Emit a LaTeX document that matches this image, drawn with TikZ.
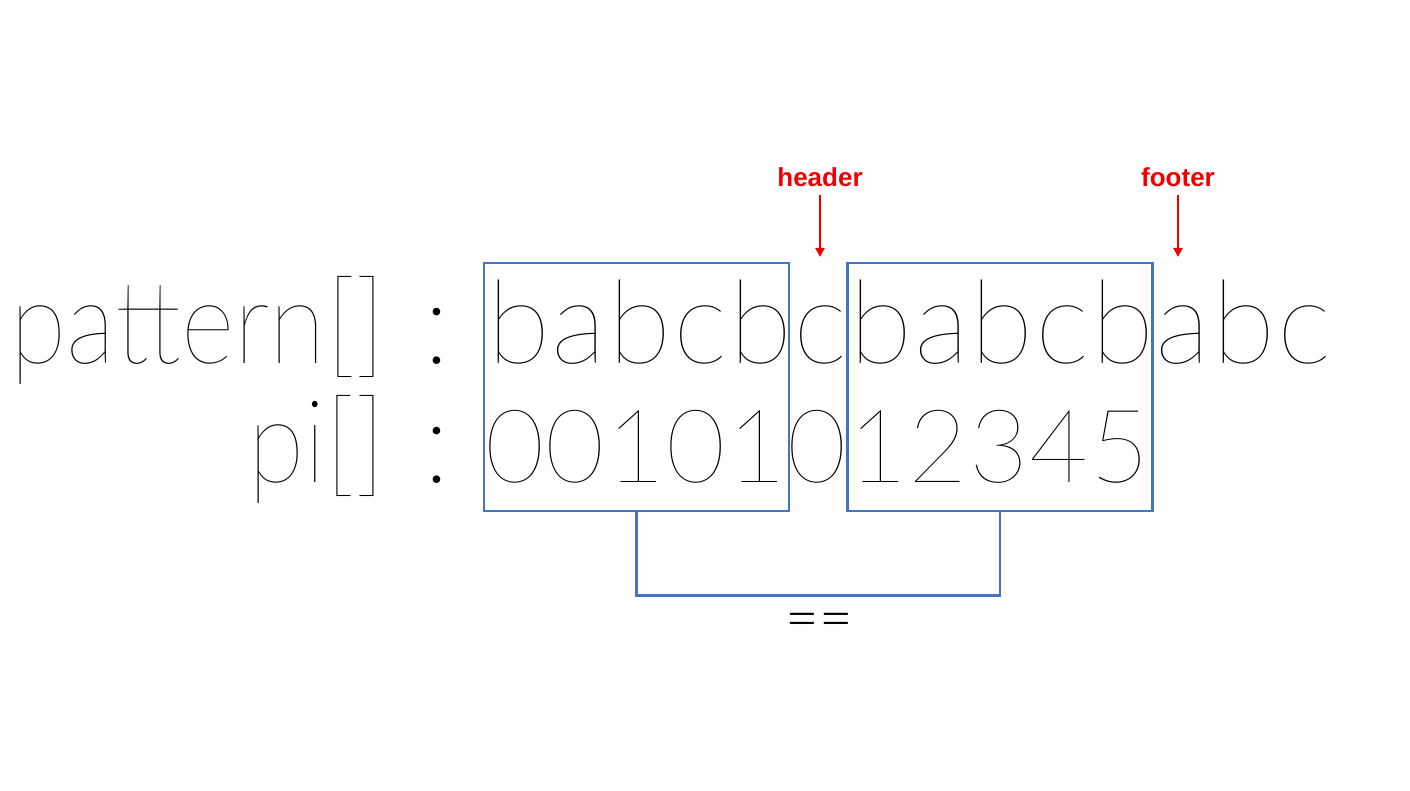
\documentclass[tikz,border=0pt]{standalone}
\usepackage{fontspec}
\usepackage{tikz}
\usetikzlibrary{positioning,arrows.meta}
\IfFontExistsTF{Lato Thin}
  {\newfontfamily\thinfont{Lato Thin}
   \newfontfamily\narrowfont{Lato Thin}[FakeStretch=0.89]}
  {\newfontfamily\thinfont{Lato Hairline}
   \newfontfamily\narrowfont{Lato Hairline}[FakeStretch=0.89]}
\IfFontExistsTF{Lato Light}
  {\newfontfamily\eqfont{Lato Light}}
  {\newfontfamily\eqfont{Lato}}
\newfontfamily\labelfont{Liberation Sans}
\definecolor{boxblue}{RGB}{68,114,196}
\definecolor{markred}{RGB}{240,0,0}

\begin{document}
\begin{tikzpicture}[x=0.5pt, y=-0.5pt,
  letter/.style={font=\thinfont\fontsize{58}{58}\selectfont, anchor=base, inner sep=0pt},
  digit/.style={font=\thinfont\fontsize{51}{51}\selectfont, anchor=base, inner sep=0pt},
  rowlabel/.style={font=\narrowfont\fontsize{58}{58}\selectfont, anchor=base east, inner sep=0pt},
  keybox/.style={draw=boxblue, line width=1.4pt, minimum width=152.5pt, minimum height=124pt, inner sep=0pt},
  link/.style={draw=boxblue, line width=1.4pt},
  marker/.style={font=\labelfont\bfseries\fontsize{13}{13}\selectfont, text=markred, inner sep=0pt},
  pointer/.style={draw=markred, line width=1pt, shorten <=4pt, -{Triangle[length=4.5pt, width=4.5pt]}}]
  \useasboundingbox (0,0) rectangle (1410,791);

  % Row labels
  \node[rowlabel] (patlbl) at (386,364) {pattern[]};
  \node[rowlabel] (pilbl) at (386,482) {pi[]};
  \node[letter] (patcol) at (437,364) {:};
  \node[letter] (picol) at (437,482) {:};

  % Pattern and pi values
  \foreach \ch [count=\i from 0] in {b,a,b,c,b,c,b,a,b,c,b,a,b,c} {
    \node[letter] (pat\i) at ({519+60.4*\i},364) {\ch};
  }
  \foreach \d [count=\i from 0] in {0,0,1,0,1,0,1,2,3,4,5} {
    \node[digit] (pi\i) at ({515+60.5*\i},482) {\d};
  }

  % Boxes
  \node[keybox] (lbox) at (636.5,387) {};
  \node[keybox] (rbox) at (1000,387) {};
  \draw[link] (lbox.south) -- ++(0,83) -| (rbox.south);
  \node[font=\eqfont\fontsize{29}{29}\selectfont, inner sep=0pt] (eq) at (819,626) {==};

  % Markers
  \node[marker] (header) at (820,177) {header};
  \node[marker] (footer) at (1178,177) {footer};
  \coordinate (headtip) at (820,257);
  \coordinate (foottip) at (1178,257);
  \draw[pointer] (header.south) -- (headtip);
  \draw[pointer] (footer.south) -- (foottip);
\end{tikzpicture}
\end{document}
